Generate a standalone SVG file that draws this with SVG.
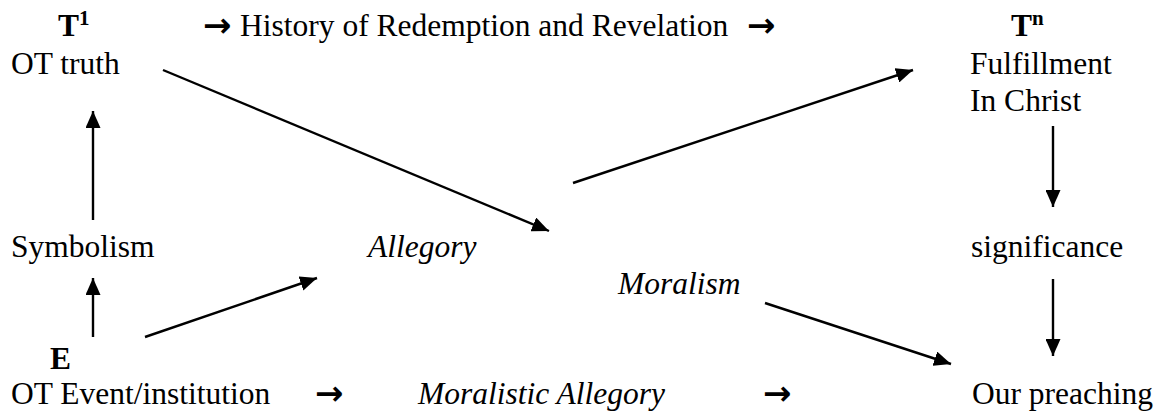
<svg xmlns="http://www.w3.org/2000/svg" width="1160" height="416" viewBox="0 0 1160 416">
<defs>
<marker id="ah" markerUnits="userSpaceOnUse" markerWidth="17" markerHeight="15" refX="17" refY="7.5" orient="auto">
<path d="M0,0 L17,7.5 L0,15 Z" fill="#000"/>
</marker>
<style>
text{font-family:"Liberation Serif","Times New Roman",serif;font-size:31.5px;fill:#000}
.b{font-weight:bold}
.i{font-style:italic}
.sup{font-size:21px}
.ar{font-family:"DejaVu Sans",sans-serif;font-size:34px;font-weight:bold}
.c line{stroke:#000;stroke-width:2.4;marker-end:url(#ah)}
</style>
</defs>
<rect width="1160" height="416" fill="#fff"/>
<g id="t1">
<text x="58" y="36" class="b">T<tspan class="sup" dy="-11">1</tspan></text>
<text x="11" y="74">OT truth</text>
</g>
<g id="history">
<text x="203" y="37" class="ar">→</text>
<text x="240" y="36">History of Redemption and Revelation</text>
<text x="747" y="37" class="ar">→</text>
</g>
<g id="tn">
<text x="1011" y="36" class="b">T<tspan class="sup" dy="-11">n</tspan></text>
<text x="970" y="74">Fulfillment</text>
<text x="970" y="110.5">In Christ</text>
</g>
<g id="symbolism"><text x="11" y="257">Symbolism</text></g>
<g id="allegory"><text x="368" y="257" class="i">Allegory</text></g>
<g id="significance"><text x="971" y="257">significance</text></g>
<g id="moralism"><text x="618" y="294" class="i">Moralism</text></g>
<g id="e">
<text x="50" y="369" class="b">E</text>
<text x="11" y="404">OT Event/institution</text>
</g>
<g id="moralistic-allegory">
<text x="315" y="405" class="ar">→</text>
<text x="418" y="404" class="i">Moralistic Allegory</text>
<text x="763" y="405" class="ar">→</text>
</g>
<g id="preaching"><text x="972" y="404">Our preaching</text></g>
<g id="connectors" class="c">
<line x1="93" y1="220" x2="93" y2="111"/>
<line x1="93" y1="337" x2="93" y2="278"/>
<line x1="145" y1="337" x2="317" y2="278"/>
<line x1="163" y1="70" x2="549" y2="231"/>
<line x1="573" y1="183" x2="913" y2="70"/>
<line x1="1053" y1="126" x2="1053" y2="207"/>
<line x1="1053" y1="279" x2="1053" y2="356"/>
<line x1="765" y1="303" x2="951" y2="364"/>
</g>
</svg>
